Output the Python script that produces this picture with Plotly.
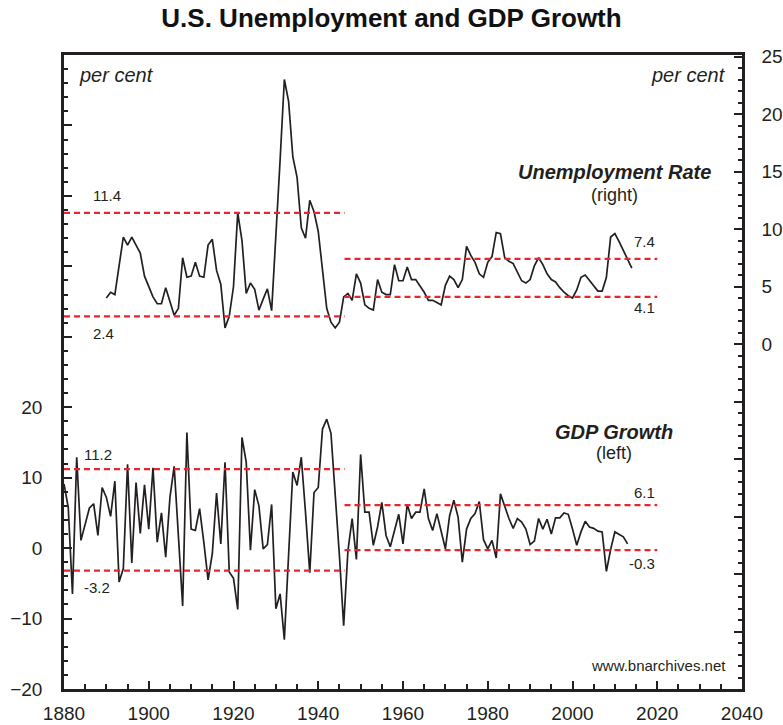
import plotly.graph_objects as go

# ---------------- data ----------------
unemp_years = list(range(1890, 2015))
unemp_rate = [
    4.0, 4.5, 4.3, 7.0, 9.3, 8.6, 9.3, 8.6, 7.9, 5.9,        # 1890-1899
    5.0, 4.1, 3.5, 3.5, 4.9, 3.8, 2.5, 3.1, 7.5, 5.8,        # 1900-1909
    5.9, 7.1, 5.9, 5.8, 8.6, 9.1, 6.4, 5.2, 1.4, 2.4,        # 1910-1919
    5.0, 11.4, 9.0, 4.4, 5.3, 4.75, 2.95, 3.9, 4.8, 2.9,     # 1920-1929
    9.0, 16.0, 23.0, 21.1, 16.3, 14.5, 10.1, 9.2, 12.5, 11.5,  # 1930-1939
    9.8, 6.6, 3.1, 1.9, 1.4, 1.9, 4.1, 4.4, 3.8, 6.1,        # 1940-1949
    5.3, 3.4, 3.1, 2.95, 5.6, 4.5, 4.3, 4.3, 6.9, 5.5,       # 1950-1959
    5.5, 6.7, 5.6, 5.6, 5.1, 4.5, 3.8, 3.8, 3.6, 3.4,        # 1960-1969
    5.1, 5.9, 5.6, 4.9, 5.6, 8.5, 7.7, 7.1, 6.1, 5.8,        # 1970-1979
    7.1, 7.6, 9.7, 9.6, 7.5, 7.2, 7.0, 6.2, 5.5, 5.3,        # 1980-1989
    5.6, 6.8, 7.5, 6.9, 6.1, 5.6, 5.4, 4.9, 4.5, 4.2,        # 1990-1999
    4.0, 4.7, 5.8, 6.0, 5.5, 5.1, 4.6, 4.6, 5.8, 9.3,        # 2000-2009
    9.6, 8.9, 8.1, 7.4, 6.6,                                 # 2010-2014
]

gdp_years = list(range(1880, 2014))
gdp_growth = [
    9.1, 5.8, -6.5, 12.9, 1.1, 3.5, 5.7, 6.3, 1.8, 8.6,      # 1880-1889
    7.2, 4.5, 9.5, -4.8, -2.9, 11.9, -2.1, 9.3, 2.1, 9.0,    # 1890-1899
    2.7, 11.4, 0.85, 5.0, -1.3, 7.2, 11.6, 1.7, -8.2, 16.4,  # 1900-1909
    2.7, 2.5, 5.6, 0.8, -4.5, -0.8, 7.8, 0.6, 12.2, -3.4,    # 1910-1919
    -4.3, -8.7, 15.7, 12.2, -0.3, 8.3, 6.0, -0.1, 0.5, 6.2,  # 1920-1929
    -8.6, -6.5, -13.0, -1.0, 10.8, 8.9, 12.9, 5.0, -3.5, 7.9,  # 1930-1939
    8.6, 16.9, 18.3, 16.3, 8.0, -1.1, -11.0, -0.4, 4.2, -1.6,  # 1940-1949
    13.3, 5.1, 5.1, 0.4, 3.0, 6.5, 1.8, 0.2, 2.5, 4.8,       # 1950-1959
    0.6, 6.2, 4.2, 5.1, 5.1, 8.4, 4.2, 2.5, 4.9, 2.3,        # 1960-1969
    -0.1, 4.6, 6.8, 4.4, -2.0, 2.7, 4.2, 4.9, 6.6, 1.2,      # 1970-1979
    -0.1, 1.1, -1.4, 7.7, 5.8, 4.2, 2.8, 4.2, 3.7, 2.7,      # 1980-1989
    0.5, 1.0, 4.2, 2.7, 4.1, 2.0, 4.3, 4.3, 5.0, 4.8,        # 1990-1999
    2.7, 0.4, 2.3, 3.8, 3.0, 2.8, 2.4, 2.3, -3.3, -0.2,      # 2000-2009
    2.3, 2.0, 1.6, 0.6,                                      # 2010-2013
]

# reference bands (pre-war / post-war periods)
period_bounds = [(1880, 1946.2), (1946.2, 2020)]
unemp_levels = [(11.4, 2.4), (7.4, 4.1)]
gdp_levels = [(11.2, -3.2), (6.1, -0.3)]

x_ticks = list(range(1880, 2041, 20))
left_ticks = list(range(-20, 71, 10))
left_labels = ["\u221220", "\u221210", "0", "10", "20"]
right_ticks = list(range(-30, 26, 5))
right_labels = ["0", "5", "10", "15", "20", "25"]

# ---------------- figure ----------------
INK = "#231f20"
RED = "#e8262d"
FONT = "Liberation Sans, Arial, Helvetica, sans-serif"

fig = go.Figure()

fig.add_trace(go.Scatter(x=unemp_years, y=unemp_rate, mode="lines",
                         line=dict(color=INK, width=1.7), yaxis="y2",
                         name="Unemployment Rate"))
fig.add_trace(go.Scatter(x=gdp_years, y=gdp_growth, mode="lines",
                         line=dict(color=INK, width=1.7), yaxis="y",
                         name="GDP Growth"))

annotations = []

def add_levels(levels, axis, offsets):
    for (x0, x1), (hi, lo), (off_hi, off_lo), side in zip(
            period_bounds, levels, offsets, ["left", "right"]):
        for v, off in ((hi, off_hi), (lo, off_lo)):
            fig.add_trace(go.Scatter(x=[x0, x1], y=[v, v], mode="lines",
                                     line=dict(color=RED, width=2.2, dash="6px,4px"),
                                     yaxis=axis, hoverinfo="skip"))
            if side == "left":
                ax_x, anchor = x0, "left"
            else:
                ax_x, anchor = x1, "right"
            annotations.append(dict(
                x=ax_x, y=v, xref="x", yref=axis, text=f"{v:.1f}",
                showarrow=False, xanchor=anchor, yanchor="middle",
                xshift=(27 if axis == "y2" else 18) if side == "left" else 0,
                yshift=off, font=dict(size=15, color=INK, family=FONT)))

add_levels(unemp_levels, "y2", [(17, -17), (17, -11)])
add_levels(gdp_levels, "y", [(15, -17), (13, -13)])

def txt(text, x, y, size, anchor="center"):
    annotations.append(dict(x=x, y=y, xref="x", yref="paper", text=text,
                            showarrow=False, xanchor=anchor, yanchor="middle",
                            font=dict(size=size, color=INK, family=FONT)))

txt("<i>per cent</i>", 1883.0, 0.968, 20, "left")
txt("<i>per cent</i>", 2036.7, 0.968, 20, "right")
txt("<b><i>Unemployment Rate</i></b>", 2009.8, 0.8155, 20)
txt("(right)", 2009.8, 0.779, 18)
txt("<b><i>GDP Growth</i></b>", 2009.8, 0.4054, 20)
txt("(left)", 2009.8, 0.3722, 18)
txt("www.bnarchives.net", 2036.7, 0.0363, 15, "right")

common = dict(showgrid=False, zeroline=False, showline=True, linewidth=2.5,
              linecolor=INK, ticks="inside", ticklen=8, tickwidth=2,
              tickcolor=INK, automargin=False,
              tickfont=dict(size=19, color=INK, family=FONT))

fig.update_layout(
    width=783, height=725,
    margin=dict(l=64, r=41, t=55, b=36, autoexpand=False),
    paper_bgcolor="white", plot_bgcolor="white",
    showlegend=False,
    font=dict(family=FONT, color=INK),
    title=dict(text="<b>U.S. Unemployment and GDP Growth</b>",
               x=0.5, xref="container", xanchor="center",
               y=1 - 18 / 725, yref="container", yanchor="middle",
               font=dict(size=26, color="#111", family=FONT)),
    xaxis=dict(range=[1880, 2040], tickmode="array", tickvals=x_ticks,
               mirror=True, ticklabelstandoff=5,
               minor=dict(tickmode="linear", tick0=1880, dtick=5,
                          ticks="inside", ticklen=5, tickwidth=2, tickcolor=INK),
               **common),
    yaxis=dict(range=[-20, 70], tickmode="array", tickvals=left_ticks,
               ticktext=left_labels + [""] * (len(left_ticks) - len(left_labels)),
               ticklabelstandoff=15,
               minor=dict(tickmode="linear", tick0=0, dtick=2,
                          ticks="inside", ticklen=4, tickwidth=2, tickcolor=INK),
               **common),
    yaxis2=dict(range=[-30, 25.13], overlaying="y", side="right",
                tickmode="array", tickvals=right_ticks,
                ticktext=[""] * (len(right_ticks) - len(right_labels)) + right_labels,
                ticklabelstandoff=13,
                minor=dict(tickmode="linear", tick0=0, dtick=1,
                           ticks="inside", ticklen=4, tickwidth=2, tickcolor=INK),
                **common),
    annotations=annotations,
)

fig.write_html("out.html",
               config={"displayModeBar": False},
               post_script="document.body.style.margin='0';"
                           "document.body.style.overflow='hidden';")
